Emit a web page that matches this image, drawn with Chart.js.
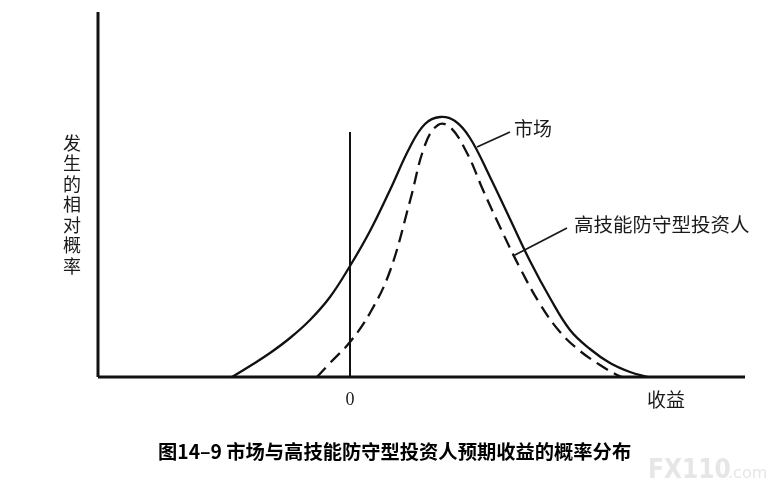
<!DOCTYPE html>
<html>
<head>
<meta charset="utf-8">
<script src="https://cdn.jsdelivr.net/npm/chart.js@4"></script>
<style>
html,body{margin:0;padding:0;background:#fff;}
#wrap{width:780px;height:498px;}
</style>
</head>
<body>
<div id="wrap"><canvas id="c" width="780" height="498"></canvas></div>
<script>
// Returns (x) and relative probability (y)
const marketX = [-11.8,-10,-8,-6,-4,-2,0,2,4,6,7.5,9,10.5,12,14,16,18,20,22,24,26,28,29.8];
const marketY = [0,1.1,2.4,3.9,5.7,8.0,11.1,14.6,18.7,23.0,25.3,26.0,25.6,23.9,20.0,15.8,11.6,7.9,4.7,2.8,1.4,0.5,0];
const defX = [-3.3,-2,0,2,4,6,7.5,8.8,10,11.7,13.3,15,17,19,21,23,25,26.7,27.2];
const defY = [0,1.4,3.5,6.4,10.6,17.6,23.2,25.2,25.0,22.4,18.7,15.0,10.9,7.3,4.5,2.6,1.2,0.2,0];
const zeroLineTop = 24.5;
const xRange = [-25.2, 39.5];
const yRange = [0, 36.5];
const seriesNames = ['市场', '高技能防守型投资人'];
const yTitle = '发生的相对概率';
const xTitle = '收益';
const zeroLabel = '0';
const caption = '图14–9 市场与高技能防守型投资人预期收益的概率分布';

function pts(xs, ys){ return xs.map((x,i)=>({x:x,y:ys[i]})); }

const textPlugin = {
  id:'texts',
  afterDraw(chart){
    const ctx = chart.ctx;
    const xs = chart.scales.x, ys = chart.scales.y;
    ctx.save();
    ctx.fillStyle = '#1a1a1a';
    ctx.strokeStyle = '#1a1a1a';
    // pointer lines
    ctx.lineWidth = 1.8;
    ctx.beginPath();
    ctx.moveTo(xs.getPixelForValue(12.7), ys.getPixelForValue(23.0));
    ctx.lineTo(xs.getPixelForValue(16.0), ys.getPixelForValue(24.5));
    ctx.moveTo(xs.getPixelForValue(16.3), ys.getPixelForValue(12.1));
    ctx.lineTo(xs.getPixelForValue(21.7), ys.getPixelForValue(14.9));
    ctx.stroke();
    ctx.textBaseline = 'middle';
    ctx.textAlign = 'left';
    ctx.font = '19px "Noto Sans CJK SC"';
    ctx.fillText(seriesNames[0], xs.getPixelForValue(16.4), ys.getPixelForValue(24.8));
    ctx.font = '19.5px "Noto Sans CJK SC"';
    ctx.fillText(seriesNames[1], xs.getPixelForValue(22.4), ys.getPixelForValue(15.2));
    // x labels
    ctx.textAlign = 'center';
    ctx.font = '18px "Liberation Serif"';
    ctx.fillText(zeroLabel, xs.getPixelForValue(0), 400);
    ctx.font = '19px "Noto Sans CJK SC"';
    ctx.fillText(xTitle, 666, 400);
    // y title vertical
    ctx.font = '18px "Noto Sans CJK SC"';
    const chars = Array.from(yTitle);
    chars.forEach((ch,i)=>{ ctx.fillText(ch, 72, 143 + i*20.5); });
    // caption
    ctx.font = 'bold 19.3px "Noto Sans CJK SC"';
    ctx.fillStyle = '#000';
    ctx.textAlign = 'left';
    ctx.fillText(caption, 158, 452);
    // watermark
    ctx.fillStyle = '#e6e6e6';
    ctx.font = 'bold 26px "DejaVu Sans Condensed"';
    ctx.fillText('FX110', 648, 471);
    ctx.font = '16px "DejaVu Sans"';
    ctx.fillText('.com', 728, 474);
    ctx.restore();
  }
};

new Chart(document.getElementById('c'), {
  type:'scatter',
  data:{
    datasets:[
      {label:seriesNames[0], data:pts(marketX, marketY), showLine:true, borderColor:'#111', borderWidth:2.3, pointRadius:0, tension:0.4, fill:false},
      {label:seriesNames[1], data:pts(defX, defY), showLine:true, borderColor:'#111', borderWidth:2.3, borderDash:[13,7], pointRadius:0, tension:0.4, fill:false},
      {label:'zero', data:[{x:0,y:0},{x:0,y:zeroLineTop}], showLine:true, borderColor:'#111', borderWidth:2, pointRadius:0},
      {label:'yaxis', data:[{x:xRange[0],y:yRange[0]},{x:xRange[0],y:yRange[1]}], showLine:true, borderColor:'#111', borderWidth:3, pointRadius:0},
      {label:'xaxis', data:[{x:xRange[0],y:0},{x:xRange[1],y:0}], showLine:true, borderColor:'#111', borderWidth:3, pointRadius:0}
    ]
  },
  options:{
    responsive:false,
    animation:false,
    clip:false,
    layout:{padding:{left:98,right:35,top:12,bottom:121}},
    plugins:{legend:{display:false}, tooltip:{enabled:false}, title:{display:false}},
    scales:{
      x:{type:'linear', min:xRange[0], max:xRange[1], display:false},
      y:{type:'linear', min:yRange[0], max:yRange[1], display:false}
    }
  },
  plugins:[textPlugin]
});
</script>
</body>
</html>
